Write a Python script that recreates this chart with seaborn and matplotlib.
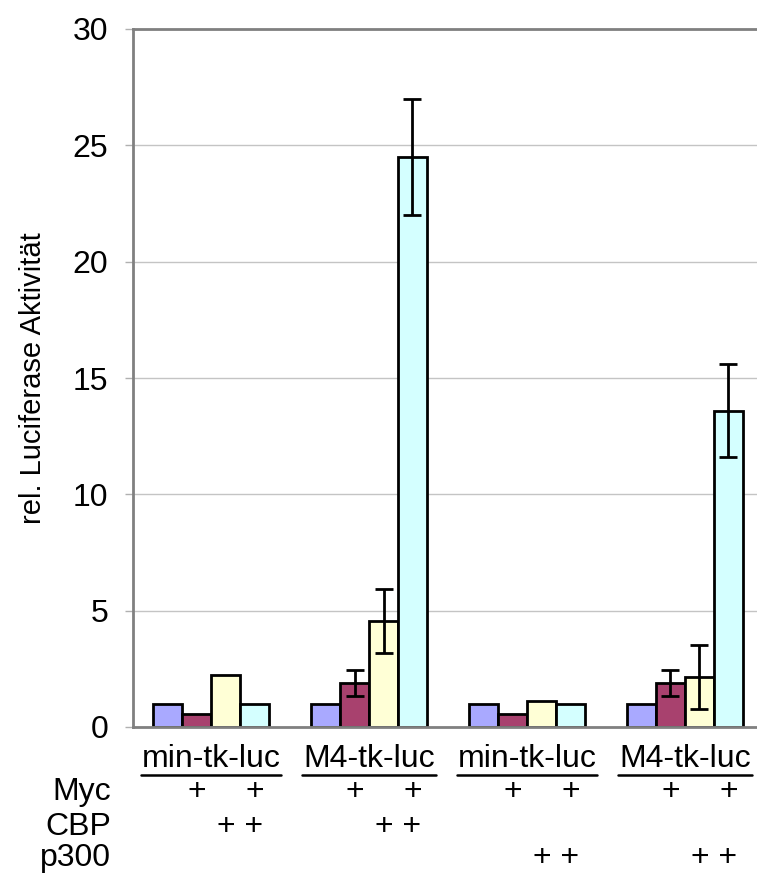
import numpy as np
import pandas as pd
import seaborn as sns
from matplotlib import pyplot as plt
from matplotlib.lines import Line2D
from matplotlib.container import BarContainer

# constructs (x groups) - two reporter pairs, first with CBP, second with p300
construct_keys = ["min CBP", "M4 CBP", "min p300", "M4 p300"]
construct_labels = ["min-tk-luc", "M4-tk-luc", "min-tk-luc", "M4-tk-luc"]

# transfection conditions (hue)
conditions = ["-", "Myc", "Coaktivator", "Myc + Coaktivator"]
colors = ["#A9A9FF", "#A8416E", "#FFFFD6", "#D4FFFF"]

# relative luciferase activity per condition, one value per construct
ctrl_vals = [1.0, 1.0, 1.0, 1.0]
myc_vals = [0.55, 1.9, 0.55, 1.9]
coact_vals = [2.25, 4.55, 1.12, 2.15]
both_vals = [1.0, 24.5, 1.0, 13.6]

ctrl_err = [0, 0, 0, 0]
myc_err = [0, 0.55, 0, 0.55]
coact_err = [0, 1.37, 0, 1.37]
both_err = [0, 2.5, 0, 2.0]

# + signs under the chart, per construct: which bar of the group gets a "+"
myc_rows = [[0, 1, 0, 1]] * 4
cbp_rows = [[0, 0, 1, 1], [0, 0, 1, 1], [0, 0, 0, 0], [0, 0, 0, 0]]
p300_rows = [[0, 0, 0, 0], [0, 0, 0, 0], [0, 0, 1, 1], [0, 0, 1, 1]]

values = [ctrl_vals, myc_vals, coact_vals, both_vals]
errors = [ctrl_err, myc_err, coact_err, both_err]

rows = []
for cond, vals, errs in zip(conditions, values, errors):
    for key, v, e in zip(construct_keys, vals, errs):
        rows.append({"construct": key, "condition": cond, "value": v, "err": e})
df = pd.DataFrame(rows)

sns.set_style("white")
plt.rcParams["font.family"] = ["Liberation Sans", "DejaVu Sans"]
plt.rcParams["text.color"] = "black"
plt.rcParams["axes.labelcolor"] = "black"
plt.rcParams["ytick.labelcolor"] = "black"

W, H = 757, 874
fig = plt.figure(figsize=(W / 100, H / 100), dpi=100)
ax = fig.add_axes([133 / W, 1 - 727 / H, 1 - 133 / W, (727 - 29) / H])

sns.barplot(data=df, x="construct", y="value", hue="condition", order=construct_keys,
            hue_order=conditions, palette=colors, saturation=1, width=0.734,
            edgecolor="black", linewidth=2.0, errorbar=None, legend=False, ax=ax)

bar_containers = [c for c in ax.containers if isinstance(c, BarContainer)]
bar_x = [[b.get_x() + b.get_width() / 2 for b in c] for c in bar_containers]

# error bars at the bar centres
for container, errs in zip(bar_containers, errors):
    for bar, e in zip(container, errs):
        if e > 0:
            ax.errorbar(bar.get_x() + bar.get_width() / 2, bar.get_height(), yerr=e,
                        fmt="none", ecolor="black", elinewidth=2.0, capsize=6.5,
                        capthick=2.0, zorder=5)

ax.set_ylim(0, 30)
ax.set_xlim(-0.494, 3.456)
ax.set_yticks(range(0, 31, 5))
ax.set_xticks([])
ax.set_xlabel("")
ax.set_ylabel("rel. Luciferase Aktivität", fontsize=21, labelpad=18)
ax.tick_params(axis="y", left=True, length=6, width=1, color="#b0b0b0", pad=12,
               labelsize=23, labelcolor="black")
ax.yaxis.grid(True, color="#c4c4c4", linewidth=1)
ax.set_axisbelow(True)
for side in ["left", "top", "bottom"]:
    ax.spines[side].set_color("#808080")
    ax.spines[side].set_linewidth(2)
ax.spines["right"].set_visible(False)

# group labels (underlined) and the + table
trans = ax.get_xaxis_transform()
ybase = 727 - 29
labels = []
for i, lab in enumerate(construct_labels):
    labels.append(ax.text(i, -(759 - 727) / ybase, lab, transform=trans,
                          ha="center", va="center", fontsize=23, color="black"))

row_names = ["Myc", "CBP", "p300"]
row_y = [792, 827, 858]
for name, y in zip(row_names, row_y):
    fig.text(111 / W, 1 - y / H, name, ha="right", va="center", fontsize=23, color="black")

for g in range(4):
    for j in range(4):
        if myc_rows[g][j]:
            ax.text(bar_x[j][g], -(792 - 727) / ybase, "+", transform=trans,
                    ha="center", va="center", fontsize=23, color="black")
    for plus_rows, y in [(cbp_rows, 827), (p300_rows, 858)]:
        if plus_rows[g][2] and plus_rows[g][3]:
            xm = (bar_x[2][g] + bar_x[3][g]) / 2
            ax.text(xm, -(y - 727) / ybase, "+ +", transform=trans,
                    ha="center", va="center", fontsize=23, color="black")

fig.canvas.draw()
for t in labels:
    bb = t.get_window_extent()
    fig.add_artist(Line2D([(bb.x0 - 1) / W, (bb.x1 + 1) / W], [1 - 775 / H, 1 - 775 / H],
                          transform=fig.transFigure, color="black", linewidth=1.8))

fig.savefig("out.png", dpi=100)
